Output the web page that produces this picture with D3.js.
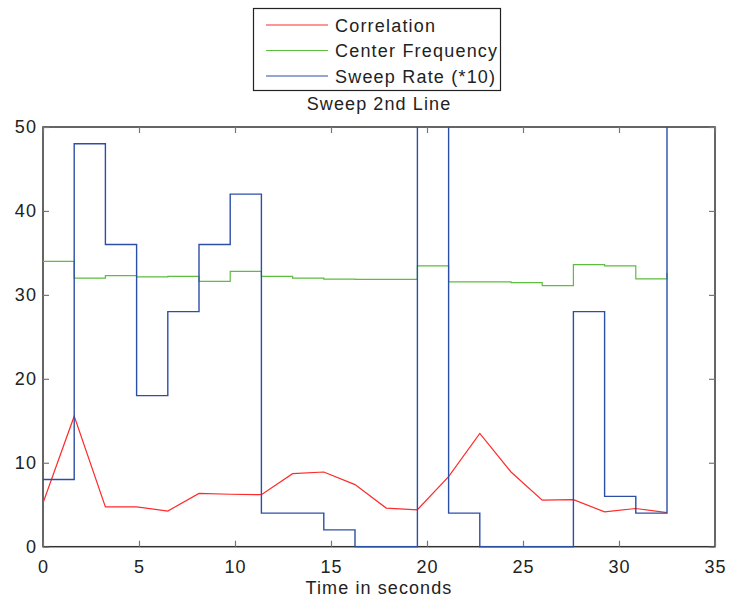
<!DOCTYPE html>
<html>
<head>
<meta charset="utf-8">
<script src="https://cdn.jsdelivr.net/npm/d3@7"></script>
<style>
  html, body { margin: 0; padding: 0; background: #fff; }
  svg { display: block; font-family: "Liberation Sans", Arial, Helvetica, sans-serif; }
  text { letter-spacing: 1.1px; }
</style>
</head>
<body>
<svg id="chart" width="729" height="604"></svg>
<script>
// Sample times (s) at each sweep segment boundary
const timeSec = [0, 1.625, 3.25, 4.875, 6.5, 8.125, 9.75, 11.375, 13.0, 14.625, 16.25,
                 17.875, 19.5, 21.125, 22.75, 24.375, 26.0, 27.625, 29.25, 30.875, 32.5];
// Correlation per sample
const correlation = [5.2, 15.55, 4.75, 4.75, 4.25, 6.35, 6.25, 6.2, 8.7, 8.9, 7.4,
                     4.6, 4.4, 8.35, 13.5, 8.9, 5.55, 5.6, 4.15, 4.55, 4.05];
// Center frequency per segment (stairs)
const centerFreq = [34, 32, 32.3, 32.15, 32.2, 31.6, 32.8, 32.2, 32.0, 31.87, 31.85,
                    31.85, 33.45, 31.55, 31.55, 31.47, 31.1, 33.6, 33.45, 31.9, 32.6];
// Sweep rate x10 per segment (stairs); values above 50 run off the top of the axes
const sweepRate10 = [8, 48, 36, 18, 28, 36, 42, 4, 4, 2, 0,
                     0, 60, 4, 0, 0, 0, 28, 6, 4, 60];

const seriesNames = ["Correlation", "Center Frequency", "Sweep Rate (*10)"];
const seriesColors = ["#ff2a2a", "#5cbd3f", "#2c4fa6"];
const xTicks = [0, 5, 10, 15, 20, 25, 30, 35];
const yTicks = [0, 10, 20, 30, 40, 50];
const titleText = "Sweep 2nd Line";
const xLabelText = "Time in seconds";

const svg = d3.select("#chart");
const plotLeft = 43, plotRight = 715, plotTop = 127, plotBottom = 546.7;

const x = d3.scaleLinear().domain([0, 35]).range([plotLeft, plotRight]);
const y = d3.scaleLinear().domain([0, 50]).range([plotBottom, plotTop]);

// Axes box and ticks sit beneath the data lines
const tickLen = 6;
const axisColor = "#333";
const fontSize = 18;

svg.append("rect").attr("x", plotLeft).attr("y", plotTop)
  .attr("width", plotRight - plotLeft).attr("height", plotBottom - plotTop)
  .attr("fill", "none").attr("stroke", axisColor).attr("stroke-width", 1.5);

const gBottom = svg.append("g").attr("transform", `translate(0,${plotBottom})`)
  .call(d3.axisBottom(x).tickValues(xTicks).tickSizeInner(-tickLen).tickSizeOuter(0).tickPadding(14));
const gTop = svg.append("g").attr("transform", `translate(0,${plotTop})`)
  .call(d3.axisTop(x).tickValues(xTicks).tickSizeInner(-tickLen).tickSizeOuter(0).tickFormat(""));
const gLeft = svg.append("g").attr("transform", `translate(${plotLeft},0)`)
  .call(d3.axisLeft(y).tickValues(yTicks).tickSizeInner(-tickLen).tickSizeOuter(0).tickPadding(7));
const gRight = svg.append("g").attr("transform", `translate(${plotRight},0)`)
  .call(d3.axisRight(y).tickValues(yTicks).tickSizeInner(-tickLen).tickSizeOuter(0).tickFormat(""));

[gBottom, gTop, gLeft, gRight].forEach(g => {
  g.select(".domain").remove();
  g.selectAll(".tick line").attr("stroke", "#777").attr("stroke-width", 1.2);
  g.selectAll(".tick text").attr("fill", "#222").style("font-size", fontSize + "px")
    .style("font-family", "'Liberation Sans', Arial, sans-serif");
});
// keep y tick labels flush right despite letter spacing
gLeft.selectAll(".tick text").attr("dx", "1px");

// Data lines, clipped to the axes area
svg.append("defs").append("clipPath").attr("id", "plotClip")
  .append("rect").attr("x", plotLeft).attr("y", plotTop)
  .attr("width", plotRight - plotLeft).attr("height", plotBottom - plotTop + 1);

const plot = svg.append("g").attr("clip-path", "url(#plotClip)");

const linePoly = d3.line().x((d, i) => x(timeSec[i])).y(d => y(d));
const lineStairs = d3.line().x((d, i) => x(timeSec[i])).y(d => y(d)).curve(d3.curveStepAfter);

plot.append("path").datum(correlation).attr("d", linePoly)
  .attr("fill", "none").attr("stroke", seriesColors[0]).attr("stroke-width", 1.2);
plot.append("path").datum(centerFreq).attr("d", lineStairs)
  .attr("fill", "none").attr("stroke", seriesColors[1]).attr("stroke-width", 1.2);
plot.append("path").datum(sweepRate10).attr("d", lineStairs)
  .attr("fill", "none").attr("stroke", seriesColors[2]).attr("stroke-width", 1.4);

// Title and x label
svg.append("text").attr("x", (plotLeft + plotRight) / 2).attr("y", 110)
  .attr("text-anchor", "middle").attr("fill", "#222").style("font-size", "18px").text(titleText);
svg.append("text").attr("x", (plotLeft + plotRight) / 2).attr("y", 594)
  .attr("text-anchor", "middle").attr("fill", "#222").style("font-size", "18px").text(xLabelText);

// Legend
const legend = svg.append("g");
legend.append("rect").attr("x", 253.5).attr("y", 8.5).attr("width", 247).attr("height", 82)
  .attr("fill", "#fff").attr("stroke", "#222").attr("stroke-width", 1.2);
const rowY = [25, 50.5, 76];
seriesNames.forEach((name, i) => {
  legend.append("line").attr("x1", 266).attr("x2", 328).attr("y1", rowY[i]).attr("y2", rowY[i])
    .attr("stroke", seriesColors[i]).attr("stroke-width", 1.2);
  legend.append("text").attr("x", 335).attr("y", rowY[i] + 6.5).attr("fill", "#222")
    .style("font-size", "18px").style("letter-spacing", "1.2px").text(name);
});
</script>
</body>
</html>
